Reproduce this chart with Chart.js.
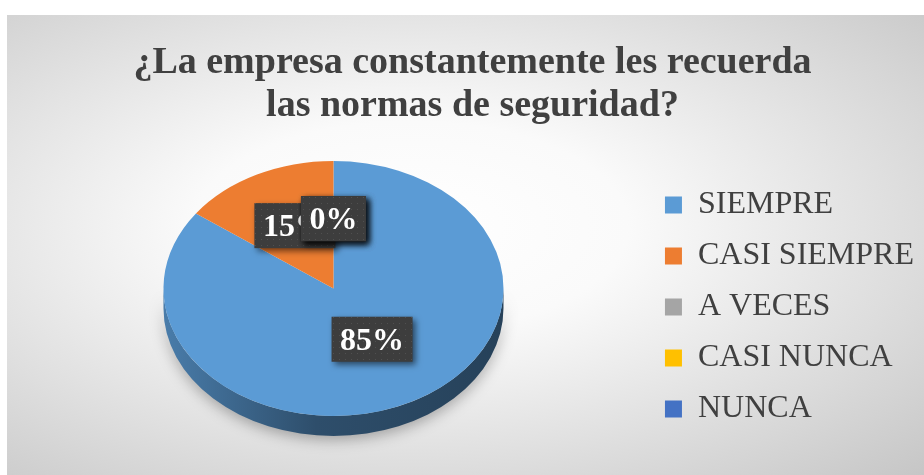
<!DOCTYPE html>
<html>
<head>
<meta charset="utf-8">
<script src="https://cdn.jsdelivr.net/npm/chart.js@4.4.1/dist/chart.umd.min.js"></script>
<style>
    html, body { margin: 0; padding: 0; background: #ffffff; }
    #card {
        position: absolute; left: 7px; top: 15px; width: 917px; height: 460px;
        background: radial-gradient(ellipse farthest-corner at 44% 46%, #ffffff 0%, #fafafa 30%, #c6c6c6 100%);
    }
</style>
</head>
<body>
<div id="card"><canvas id="myChart"></canvas></div>
<script>
/* respuestas de la encuesta, en porcentaje */
const categorias = ['SIEMPRE', 'CASI SIEMPRE', 'A VECES', 'CASI NUNCA', 'NUNCA'];
const valores = [85, 15, 0, 0, 0];
const colores = ['#5B9BD5', '#ED7D31', '#A5A5A5', '#FFC000', '#4472C4'];

window.onload = function () {
    const tilt = 0.75, depth = 20, lift = 15;

    function shade(hex, f) {
        const n = parseInt(hex.slice(1), 16);
        const r = Math.round(((n >> 16) & 255) * f), g = Math.round(((n >> 8) & 255) * f), b = Math.round((n & 255) * f);
        return 'rgb(' + r + ',' + g + ',' + b + ')';
    }

    // little dotted texture for the label boxes
    const tile = document.createElement('canvas');
    tile.width = 6; tile.height = 6;
    const tctx = tile.getContext('2d');
    tctx.fillStyle = '#3d3d3d';
    tctx.fillRect(0, 0, 6, 6);
    tctx.fillStyle = '#505050';
    tctx.fillRect(2, 2, 1, 1);

    const pie3d = {
        id: 'pie3d',
        beforeDatasetsDraw(chart) {
            const ctx = chart.ctx;
            const arcs = chart.getDatasetMeta(0).data;
            const cx = arcs[0].x, cy = arcs[0].y, r = arcs[0].outerRadius;
            const ey = cy - lift, ry = r * tilt;

            // side wall, only the front half is visible
            arcs.forEach((arc, i) => {
                const a = arc.startAngle, b = arc.endAngle;
                if (b - a <= 0) return;
                for (let k = -1; k <= 1; k++) {
                    const lo = Math.max(a, 2 * Math.PI * k), hi = Math.min(b, 2 * Math.PI * k + Math.PI);
                    if (hi <= lo) continue;
                    const grad = ctx.createLinearGradient(cx - r, 0, cx + r, 0);
                    grad.addColorStop(0, shade(colores[i], 0.8));
                    grad.addColorStop(0.45, shade(colores[i], 0.5));
                    grad.addColorStop(1, shade(colores[i], 0.42));
                    ctx.save();
                    ctx.shadowColor = 'rgba(0,0,0,0.3)';
                    ctx.shadowBlur = 14;
                    ctx.shadowOffsetY = 4;
                    ctx.beginPath();
                    ctx.ellipse(cx, ey, r, ry, 0, lo, hi, false);
                    ctx.ellipse(cx, ey + depth, r, ry, 0, hi, lo, true);
                    ctx.closePath();
                    ctx.fillStyle = grad;
                    ctx.fill();
                    ctx.restore();
                }
            });

            // flatten the top face
            ctx.save();
            ctx.translate(cx, ey);
            ctx.scale(1, tilt);
            ctx.translate(-cx, -cy);
        },
        afterDatasetsDraw(chart) {
            const ctx = chart.ctx;
            ctx.restore();

            const arcs = chart.getDatasetMeta(0).data;
            const pattern = ctx.createPattern(tile, 'repeat');
            ctx.save();
            ctx.font = 'bold 32px "Liberation Serif"';
            ctx.textAlign = 'center';
            ctx.textBaseline = 'middle';
            arcs.forEach((arc, i) => {
                const mid = (arc.startAngle + arc.endAngle) / 2;
                const d = arc.outerRadius * 0.5;
                const x = arc.x + Math.cos(mid) * d;
                const y = arc.y - lift + Math.sin(mid) * d * tilt - 6;
                const txt = valores[i] + '%';
                const w = ctx.measureText(txt).width + 17, h = 45;
                ctx.save();
                ctx.shadowColor = 'rgba(0,0,0,0.55)';
                ctx.shadowBlur = 6;
                ctx.shadowOffsetX = 3;
                ctx.shadowOffsetY = 3;
                ctx.fillStyle = pattern;
                ctx.fillRect(x - w / 2, y - h / 2, w, h);
                ctx.restore();
                ctx.fillStyle = '#ffffff';
                ctx.fillText(txt, x, y + 2);
            });
            ctx.restore();
        }
    };

    var ctx = document.getElementById('myChart');
    var myChart = new Chart(ctx, {
        type: 'pie',
        data: {
            labels: categorias,
            datasets: [{
                data: valores,
                backgroundColor: colores,
                borderWidth: 0,
                radius: 170
            }]
        },
        options: {
            responsive: true,
            maintainAspectRatio: false,
            animation: false,
            layout: {
                padding: { left: 14, right: 0, top: 0, bottom: 2 }
            },
            plugins: {
                tooltip: { enabled: false },
                title: {
                    display: true,
                    text: ['¿La empresa constantemente les recuerda', 'las normas de seguridad?'],
                    color: '#404040',
                    font: { family: '"Liberation Serif"', size: 38, weight: 'bold', lineHeight: 1.13 },
                    padding: { top: 27, bottom: 6 }
                },
                legend: {
                    position: 'right',
                    title: {
                        display: true,
                        text: ' ',
                        font: { size: 10, lineHeight: 1 },
                        padding: { top: 0, bottom: 116 }
                    },
                    labels: {
                        color: '#404040',
                        font: { family: '"Liberation Serif"', size: 32 },
                        boxWidth: 17,
                        boxHeight: 17,
                        padding: 19
                    }
                }
            }
        },
        plugins: [pie3d]
    });
};
</script>
</body>
</html>
